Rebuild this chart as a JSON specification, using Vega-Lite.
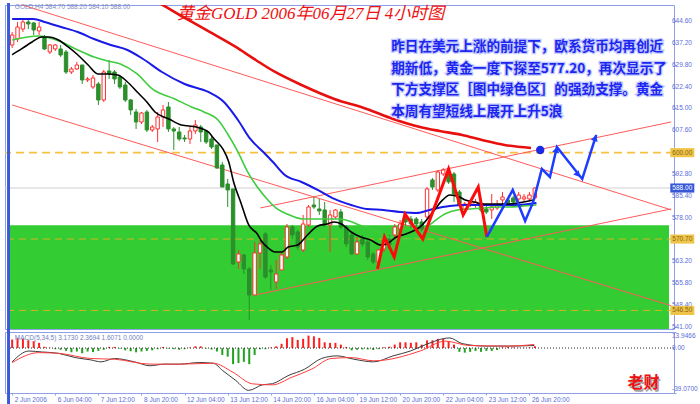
{
  "$schema": "https://vega.github.io/schema/vega-lite/v6.json",
  "background": "#ffffff",
  "padding": {"left": 3, "top": 2, "right": 0, "bottom": 0},
  "spacing": 3,
  "bounds": "flush",
  "resolve": {"scale": {"x": "independent", "y": "independent"}},
  "config": {
    "view": {"stroke": "#90a0e8", "strokeWidth": 1},
    "axis": {"grid": false, "labelFont": "Liberation Sans", "labelFontSize": 6.5, "labelColor": "#5b6cd8", "domain": false, "tickColor": "#90a0e8", "tickSize": 2, "labelPadding": 1, "labelOverlap": false}
  },
  "datasets": {
    "zone": [{"lo": 540.2, "hi": 575.4}],
    "hlines": [
      {"k": "top", "p": 600.0},
      {"k": "cur", "p": 588.0},
      {"k": "low", "p": 570.7},
      {"k": "low", "p": 546.5}
    ],
    "yticks": [
      {"p": 541.0, "t": "541.00"}, {"p": 548.4, "t": "548.40"}, {"p": 555.8, "t": "555.80"}, {"p": 563.2, "t": "563.20"},
      {"p": 578.0, "t": "578.00"}, {"p": 585.4, "t": "585.40"}, {"p": 592.8, "t": "592.80"}, {"p": 607.6, "t": "607.60"},
      {"p": 615.0, "t": "615.00"}, {"p": 622.4, "t": "622.40"}, {"p": 629.8, "t": "629.80"}, {"p": 637.2, "t": "637.20"}, {"p": 644.6, "t": "644.60"}
    ],
    "trend": [
      {"id": "L1", "i": 0, "p": 651.16}, {"id": "L1", "i": 122.3, "p": 580.59},
      {"id": "L2", "i": 0, "p": 616.15}, {"id": "L2", "i": 122.3, "p": 548.1},
      {"id": "L3", "i": 46.07, "p": 581.24}, {"id": "L3", "i": 122.3, "p": 610.39},
      {"id": "L4", "i": 45.15, "p": 551.74}, {"id": "L4", "i": 122.3, "p": 580.9}
    ],
    "ohlc": [
      {"i":0,"o":636.49,"h":640.9,"l":635.48,"c":639.88},
      {"i":1,"o":638.53,"h":644.29,"l":637.51,"c":642.59},
      {"i":2,"o":641.92,"h":645.31,"l":640.9,"c":644.29},
      {"i":3,"o":644.29,"h":644.97,"l":641.92,"c":643.61},
      {"i":4,"o":643.95,"h":644.29,"l":639.88,"c":641.58},
      {"i":5,"o":641.24,"h":644.29,"l":639.88,"c":642.59},
      {"i":6,"o":639.2,"h":639.88,"l":634.8,"c":635.14},
      {"i":7,"o":634.12,"h":636.83,"l":633.44,"c":636.49},
      {"i":8,"o":635.14,"h":636.83,"l":634.46,"c":636.49},
      {"i":9,"o":635.14,"h":636.49,"l":632.42,"c":633.1},
      {"i":10,"o":634.12,"h":634.8,"l":626.66,"c":627.34},
      {"i":11,"o":627.34,"h":629.03,"l":626.66,"c":628.36},
      {"i":12,"o":628.36,"h":630.73,"l":628.02,"c":629.71},
      {"i":13,"o":629.71,"h":629.71,"l":623.27,"c":624.63},
      {"i":14,"o":624.63,"h":625.64,"l":623.95,"c":624.97},
      {"i":15,"o":622.25,"h":626.32,"l":621.58,"c":625.31},
      {"i":16,"o":623.27,"h":623.95,"l":616.15,"c":617.85},
      {"i":17,"o":617.85,"h":628.02,"l":617.17,"c":627.34},
      {"i":18,"o":627.68,"h":631.41,"l":624.97,"c":626.66},
      {"i":19,"o":627.34,"h":628.02,"l":623.27,"c":624.97},
      {"i":20,"o":625.64,"h":626.32,"l":621.58,"c":622.25},
      {"i":21,"o":622.93,"h":623.95,"l":617.17,"c":617.85},
      {"i":22,"o":617.85,"h":618.19,"l":612.76,"c":614.46},
      {"i":23,"o":613.78,"h":614.8,"l":608.02,"c":610.39},
      {"i":24,"o":610.39,"h":613.78,"l":609.71,"c":613.44},
      {"i":25,"o":613.78,"h":614.46,"l":607.0,"c":607.68},
      {"i":26,"o":607.68,"h":609.37,"l":607.0,"c":608.69},
      {"i":27,"o":608.02,"h":613.78,"l":603.61,"c":612.08},
      {"i":28,"o":612.08,"h":616.15,"l":608.69,"c":614.46},
      {"i":29,"o":615.47,"h":617.17,"l":607.0,"c":608.02},
      {"i":30,"o":608.02,"h":608.69,"l":600.9,"c":607.34},
      {"i":31,"o":607.0,"h":608.69,"l":603.95,"c":604.63},
      {"i":32,"o":604.97,"h":605.98,"l":603.61,"c":604.63},
      {"i":33,"o":604.63,"h":608.69,"l":602.93,"c":607.34},
      {"i":34,"o":607.34,"h":611.07,"l":606.32,"c":609.37},
      {"i":35,"o":608.69,"h":609.37,"l":603.61,"c":607.0},
      {"i":36,"o":607.34,"h":607.68,"l":602.93,"c":603.61},
      {"i":37,"o":604.63,"h":605.3,"l":601.24,"c":601.91},
      {"i":38,"o":602.59,"h":602.59,"l":594.46,"c":594.8},
      {"i":39,"o":595.81,"h":596.83,"l":588.35,"c":588.35},
      {"i":40,"o":589.37,"h":591.07,"l":581.57,"c":587.34},
      {"i":41,"o":587.68,"h":587.68,"l":561.91,"c":562.25},
      {"i":42,"o":562.93,"h":567.0,"l":560.56,"c":565.64},
      {"i":43,"o":565.3,"h":565.64,"l":558.86,"c":560.56},
      {"i":44,"o":560.56,"h":561.23,"l":543.27,"c":551.74},
      {"i":45,"o":551.74,"h":569.71,"l":551.74,"c":565.98},
      {"i":46,"o":565.98,"h":570.39,"l":560.56,"c":569.03},
      {"i":47,"o":572.42,"h":573.1,"l":557.17,"c":557.84},
      {"i":48,"o":560.22,"h":561.91,"l":553.44,"c":559.54},
      {"i":49,"o":556.15,"h":563.61,"l":553.78,"c":558.86},
      {"i":50,"o":560.22,"h":566.32,"l":560.22,"c":565.3},
      {"i":51,"o":564.62,"h":575.81,"l":563.95,"c":574.79},
      {"i":52,"o":574.79,"h":575.47,"l":570.73,"c":572.08},
      {"i":53,"o":573.1,"h":573.78,"l":567.0,"c":568.01},
      {"i":54,"o":567.0,"h":578.86,"l":566.32,"c":575.81},
      {"i":55,"o":575.47,"h":582.25,"l":574.79,"c":581.57},
      {"i":56,"o":582.25,"h":584.96,"l":580.9,"c":581.57},
      {"i":57,"o":580.9,"h":584.29,"l":578.86,"c":580.22},
      {"i":58,"o":580.56,"h":583.27,"l":574.79,"c":575.47},
      {"i":59,"o":575.47,"h":580.56,"l":566.32,"c":578.86},
      {"i":60,"o":578.18,"h":580.9,"l":577.51,"c":580.56},
      {"i":61,"o":579.88,"h":580.9,"l":574.12,"c":574.79},
      {"i":62,"o":574.79,"h":575.47,"l":568.01,"c":569.03},
      {"i":63,"o":572.08,"h":573.1,"l":565.3,"c":565.64},
      {"i":64,"o":565.64,"h":571.4,"l":565.3,"c":569.71},
      {"i":65,"o":570.73,"h":572.08,"l":568.01,"c":569.03},
      {"i":66,"o":569.71,"h":570.39,"l":563.61,"c":564.62},
      {"i":67,"o":565.64,"h":566.32,"l":562.25,"c":562.93},
      {"i":68,"o":562.93,"h":567.34,"l":560.56,"c":567.0},
      {"i":69,"o":567.34,"h":571.4,"l":566.32,"c":570.39},
      {"i":70,"o":570.73,"h":572.08,"l":567.68,"c":568.69},
      {"i":71,"o":572.08,"h":575.81,"l":571.07,"c":574.79},
      {"i":72,"o":574.12,"h":577.17,"l":573.1,"c":575.81},
      {"i":73,"o":578.18,"h":579.2,"l":575.13,"c":576.49},
      {"i":74,"o":577.51,"h":578.52,"l":574.46,"c":575.81},
      {"i":75,"o":577.51,"h":578.18,"l":574.46,"c":575.81},
      {"i":76,"o":576.49,"h":577.51,"l":573.44,"c":574.12},
      {"i":77,"o":578.18,"h":588.35,"l":577.51,"c":587.68},
      {"i":78,"o":590.73,"h":591.41,"l":587.34,"c":588.35},
      {"i":79,"o":587.34,"h":594.12,"l":586.66,"c":593.44},
      {"i":80,"o":592.76,"h":594.8,"l":592.08,"c":594.12},
      {"i":81,"o":593.44,"h":594.12,"l":589.37,"c":590.05},
      {"i":82,"o":592.76,"h":593.44,"l":583.27,"c":585.98},
      {"i":83,"o":586.66,"h":587.34,"l":581.57,"c":582.25},
      {"i":84,"o":580.9,"h":583.27,"l":580.22,"c":582.59},
      {"i":85,"o":582.25,"h":583.95,"l":581.57,"c":583.27},
      {"i":86,"o":582.25,"h":584.29,"l":581.24,"c":583.27},
      {"i":87,"o":582.25,"h":583.27,"l":579.88,"c":580.56},
      {"i":88,"o":580.9,"h":581.91,"l":579.2,"c":579.88},
      {"i":89,"o":580.56,"h":585.98,"l":577.51,"c":581.57},
      {"i":90,"o":581.24,"h":583.95,"l":580.56,"c":582.25},
      {"i":91,"o":583.95,"h":586.66,"l":582.59,"c":584.96},
      {"i":92,"o":583.95,"h":584.63,"l":581.91,"c":582.59},
      {"i":93,"o":584.63,"h":585.3,"l":582.59,"c":583.27},
      {"i":94,"o":584.29,"h":586.66,"l":583.27,"c":585.64},
      {"i":95,"o":584.29,"h":585.98,"l":583.61,"c":584.96},
      {"i":96,"o":584.29,"h":586.66,"l":583.61,"c":585.64},
      {"i":97,"o":584.7,"h":588.2,"l":584.1,"c":588.0}
    ],
    "ma": [
      {"m":"red","i":24.0,"p":653.5},{"m":"red","i":26.9,"p":651.07},{"m":"red","i":31.1,"p":646.66},{"m":"red","i":36.0,"p":641.58},{"m":"red","i":41.5,"p":635.82},{"m":"red","i":45.2,"p":631.41},{"m":"red","i":48.8,"p":627.34},{"m":"red","i":53.7,"p":622.93},{"m":"red","i":59.8,"p":618.19},{"m":"red","i":65.8,"p":614.8},{"m":"red","i":70.7,"p":611.41},{"m":"red","i":75.7,"p":608.69},{"m":"red","i":79.3,"p":607.34},{"m":"red","i":83.5,"p":605.98},{"m":"red","i":87.2,"p":604.29},{"m":"red","i":91.4,"p":602.59},{"m":"red","i":96.3,"p":601.58},
      {"m":"blue","i":0,"p":645.31},{"m":"blue","i":4.0,"p":645.31},{"m":"blue","i":6.0,"p":644.29},{"m":"blue","i":9.1,"p":642.59},{"m":"blue","i":12.2,"p":640.9},{"m":"blue","i":15.2,"p":638.53},{"m":"blue","i":18.3,"p":636.49},{"m":"blue","i":21.4,"p":634.8},{"m":"blue","i":24.3,"p":631.75},{"m":"blue","i":27.8,"p":627.34},{"m":"blue","i":32.0,"p":623.27},{"m":"blue","i":36.4,"p":620.56},{"m":"blue","i":39.3,"p":617.17},{"m":"blue","i":41.9,"p":611.07},{"m":"blue","i":44.2,"p":604.63},{"m":"blue","i":46.6,"p":600.22},{"m":"blue","i":48.4,"p":596.83},{"m":"blue","i":50.6,"p":592.42},{"m":"blue","i":53.7,"p":590.05},{"m":"blue","i":56.7,"p":587.34},{"m":"blue","i":59.8,"p":584.29},{"m":"blue","i":62.9,"p":582.25},{"m":"blue","i":65.8,"p":580.9},{"m":"blue","i":68.9,"p":580.56},{"m":"blue","i":72.0,"p":579.88},{"m":"blue","i":75.0,"p":579.54},{"m":"blue","i":78.1,"p":580.9},{"m":"blue","i":81.2,"p":581.91},{"m":"blue","i":84.1,"p":582.25},{"m":"blue","i":88.7,"p":582.25},{"m":"blue","i":93.6,"p":582.25},{"m":"blue","i":97.3,"p":582.93},
      {"m":"green","i":0,"p":638.19},{"m":"green","i":4.9,"p":639.54},{"m":"green","i":9.1,"p":637.51},{"m":"green","i":12.2,"p":634.8},{"m":"green","i":15.2,"p":632.42},{"m":"green","i":17.7,"p":631.07},{"m":"green","i":20.1,"p":630.05},{"m":"green","i":23.2,"p":626.66},{"m":"green","i":26.0,"p":621.58},{"m":"green","i":30.2,"p":618.19},{"m":"green","i":33.3,"p":615.47},{"m":"green","i":35.6,"p":613.78},{"m":"green","i":38.2,"p":611.07},{"m":"green","i":40.0,"p":606.32},{"m":"green","i":41.9,"p":600.22},{"m":"green","i":43.7,"p":593.44},{"m":"green","i":45.5,"p":588.35},{"m":"green","i":47.3,"p":584.29},{"m":"green","i":49.2,"p":580.9},{"m":"green","i":51.0,"p":579.2},{"m":"green","i":53.9,"p":577.51},{"m":"green","i":57.0,"p":577.51},{"m":"green","i":60.7,"p":577.51},{"m":"green","i":63.1,"p":576.49},{"m":"green","i":64.4,"p":575.47},{"m":"green","i":67.1,"p":573.78},{"m":"green","i":69.8,"p":571.4},{"m":"green","i":72.6,"p":570.39},{"m":"green","i":75.0,"p":571.4},{"m":"green","i":77.7,"p":575.81},{"m":"green","i":80.3,"p":579.2},{"m":"green","i":82.6,"p":580.56},{"m":"green","i":85.0,"p":580.9},{"m":"green","i":87.6,"p":581.24},{"m":"green","i":89.9,"p":581.57},{"m":"green","i":92.3,"p":581.57},{"m":"green","i":94.9,"p":581.91},{"m":"green","i":97.3,"p":582.25},
      {"m":"black","i":0,"p":633.2},{"m":"black","i":1.8,"p":635.24},{"m":"black","i":3.7,"p":637.51},{"m":"black","i":5.5,"p":639.2},{"m":"black","i":6.8,"p":639.2},{"m":"black","i":8.6,"p":638.19},{"m":"black","i":10.4,"p":635.82},{"m":"black","i":12.2,"p":633.1},{"m":"black","i":14.1,"p":629.71},{"m":"black","i":15.9,"p":626.66},{"m":"black","i":17.7,"p":626.66},{"m":"black","i":19.6,"p":626.32},{"m":"black","i":21.4,"p":623.95},{"m":"black","i":23.2,"p":620.56},{"m":"black","i":25.0,"p":617.17},{"m":"black","i":26.5,"p":613.78},{"m":"black","i":29.1,"p":611.41},{"m":"black","i":31.4,"p":609.37},{"m":"black","i":34.2,"p":608.69},{"m":"black","i":36.4,"p":607.0},{"m":"black","i":37.5,"p":604.63},{"m":"black","i":39.1,"p":601.24},{"m":"black","i":40.2,"p":596.83},{"m":"black","i":41.1,"p":590.05},{"m":"black","i":42.4,"p":583.27},{"m":"black","i":43.9,"p":575.47},{"m":"black","i":45.5,"p":572.42},{"m":"black","i":46.4,"p":569.71},{"m":"black","i":47.3,"p":568.01},{"m":"black","i":48.8,"p":566.32},{"m":"black","i":50.1,"p":566.32},{"m":"black","i":51.2,"p":568.01},{"m":"black","i":53.0,"p":568.69},{"m":"black","i":54.8,"p":572.08},{"m":"black","i":56.7,"p":575.13},{"m":"black","i":58.5,"p":575.81},{"m":"black","i":59.8,"p":576.49},{"m":"black","i":61.1,"p":575.81},{"m":"black","i":62.9,"p":573.1},{"m":"black","i":64.7,"p":571.4},{"m":"black","i":66.5,"p":570.39},{"m":"black","i":68.4,"p":568.69},{"m":"black","i":69.5,"p":569.03},{"m":"black","i":71.3,"p":571.4},{"m":"black","i":73.1,"p":572.42},{"m":"black","i":75.7,"p":574.79},{"m":"black","i":78.1,"p":579.88},{"m":"black","i":79.9,"p":583.95},{"m":"black","i":81.2,"p":585.64},{"m":"black","i":83.0,"p":584.96},{"m":"black","i":84.1,"p":583.95},{"m":"black","i":85.7,"p":583.27},{"m":"black","i":87.6,"p":582.59},{"m":"black","i":89.9,"p":582.59},{"m":"black","i":92.3,"p":582.59},{"m":"black","i":94.9,"p":583.27},{"m":"black","i":96.7,"p":583.95}
    ],
    "zigR": [
      {"i":67.8,"p":560.56},{"i":69.1,"p":571.4},{"i":70.9,"p":564.62},{"i":72.9,"p":579.2},{"i":76.2,"p":570.73},{"i":81.0,"p":594.46},{"i":83.7,"p":578.86},{"i":86.5,"p":588.35},{"i":88.1,"p":571.4}
    ],
    "zigB": [
      {"i":88.1,"p":571.4},{"i":92.9,"p":587.34},{"i":95.2,"p":576.83},{"i":96.7,"p":583.27},{"i":98.3,"p":594.46},{"i":99.8,"p":591.75},{"i":101.1,"p":601.91},{"i":105.8,"p":591.07},{"i":108.4,"p":605.98}
    ],
    "arrows": [
      {"id":"a1","i":101.0,"p":601.0},
      {"id":"a2","i":105.0,"p":592.5},
      {"id":"a3","i":108.2,"p":605.0}
    ],
    "dot": [{"i":98.0,"p":600.9}],
    "boxes": [
      {"k":"y","p":600.0,"t":"600.00"},
      {"k":"b","p":588.0,"t":"588.00"},
      {"k":"y","p":570.7,"t":"570.70"},
      {"k":"y","p":546.5,"t":"546.50"}
    ],
    "hist": [
      {"i":0,"v":7.4},{"i":1,"v":8.8},{"i":2,"v":8},{"i":3,"v":6.8},{"i":4,"v":6},{"i":5,"v":4.5},{"i":6,"v":1.1},{"i":7,"v":0.3},{"i":8,"v":-1},{"i":9,"v":-1.5},
      {"i":10,"v":-2.5},{"i":11,"v":-3.7},{"i":12,"v":-3},{"i":13,"v":-4.5},{"i":14,"v":-3},{"i":15,"v":-3.5},{"i":16,"v":-2.5},{"i":17,"v":-1.5},{"i":18,"v":1},{"i":19,"v":1},
      {"i":20,"v":-0.5},{"i":21,"v":-2},{"i":22,"v":-2.8},{"i":23,"v":-3.7},{"i":24,"v":-3},{"i":25,"v":-2.5},{"i":26,"v":-2},{"i":27,"v":-1},{"i":28,"v":1},{"i":29,"v":-0.5},
      {"i":30,"v":-1},{"i":31,"v":-1.5},{"i":32,"v":-1},{"i":33,"v":0.5},{"i":34,"v":1.5},{"i":35,"v":1.5},{"i":36,"v":-0.5},{"i":37,"v":-1.3},{"i":38,"v":-3},{"i":39,"v":-6},
      {"i":40,"v":-7.5},{"i":41,"v":-14},{"i":42,"v":-13},{"i":43,"v":-12},{"i":44,"v":-14},{"i":45,"v":-6},{"i":46,"v":-1},{"i":47,"v":-1},{"i":48,"v":0.5},{"i":49,"v":1.5},
      {"i":50,"v":3.7},{"i":51,"v":8.5},{"i":52,"v":9.5},{"i":53,"v":7},{"i":54,"v":8},{"i":55,"v":10.8},{"i":56,"v":10.2},{"i":57,"v":8.8},{"i":58,"v":5},{"i":59,"v":4.5},
      {"i":60,"v":4.5},{"i":61,"v":3},{"i":62,"v":1},{"i":63,"v":-2},{"i":64,"v":-1.5},{"i":65,"v":-1.2},{"i":66,"v":-1.2},{"i":67,"v":-1.7},{"i":68,"v":-1},{"i":69,"v":0.6},
      {"i":70,"v":1.2},{"i":71,"v":3},{"i":72,"v":5},{"i":73,"v":5},{"i":74,"v":4.5},{"i":75,"v":5},{"i":76,"v":3},{"i":77,"v":6.7},{"i":78,"v":6.7},{"i":79,"v":8},
      {"i":80,"v":8},{"i":81,"v":6},{"i":82,"v":3},{"i":83,"v":-3.3},{"i":84,"v":-4},{"i":85,"v":-3.3},{"i":86,"v":-2.5},{"i":87,"v":-3.3},{"i":88,"v":-2.5},{"i":89,"v":-2.5},
      {"i":90,"v":-1.7},{"i":91,"v":0.5},{"i":92,"v":0.8},{"i":93,"v":0.5},{"i":94,"v":0.3},{"i":95,"v":0.3},{"i":96,"v":0.5},{"i":97,"v":1.6}
    ],
    "macd": [
      {"m":"macd","i":0,"v":-12},{"m":"macd","i":3.1,"v":-2.6},{"m":"macd","i":5.5,"v":-3.4},{"m":"macd","i":8.6,"v":-4.6},{"m":"macd","i":11.7,"v":-8.3},{"m":"macd","i":14.6,"v":-10.3},{"m":"macd","i":16.5,"v":-12},{"m":"macd","i":19.0,"v":-9.1},{"m":"macd","i":22.7,"v":-12},{"m":"macd","i":25.6,"v":-15.4},{"m":"macd","i":28.2,"v":-14},{"m":"macd","i":31.1,"v":-14},{"m":"macd","i":34.7,"v":-12.6},{"m":"macd","i":37.3,"v":-13.2},{"m":"macd","i":39.1,"v":-19.7},{"m":"macd","i":41.5,"v":-28.2},{"m":"macd","i":43.9,"v":-36.8},{"m":"macd","i":46.4,"v":-32},{"m":"macd","i":48.3,"v":-31},{"m":"macd","i":51.2,"v":-24},{"m":"macd","i":54.3,"v":-18.3},{"m":"macd","i":57.4,"v":-9.1},{"m":"macd","i":60.3,"v":-6.8},{"m":"macd","i":63.4,"v":-9.7},{"m":"macd","i":67.1,"v":-12},{"m":"macd","i":70.7,"v":-6.8},{"m":"macd","i":73.9,"v":-2.6},{"m":"macd","i":76.8,"v":3.1},{"m":"macd","i":81.2,"v":8.8},{"m":"macd","i":83.5,"v":3.9},{"m":"macd","i":87.8,"v":1.7},{"m":"macd","i":92.1,"v":1.7},{"m":"macd","i":96.9,"v":2.2},
      {"m":"sig","i":0,"v":-12.6},{"m":"sig","i":4.9,"v":-4},{"m":"sig","i":8.6,"v":-4.6},{"m":"sig","i":14.6,"v":-9.1},{"m":"sig","i":19.0,"v":-9.7},{"m":"sig","i":25.6,"v":-14},{"m":"sig","i":31.1,"v":-14},{"m":"sig","i":37.3,"v":-13.2},{"m":"sig","i":41.0,"v":-21.1},{"m":"sig","i":44.6,"v":-31.1},{"m":"sig","i":48.3,"v":-32},{"m":"sig","i":51.9,"v":-25.4},{"m":"sig","i":55.6,"v":-18.3},{"m":"sig","i":59.2,"v":-9.1},{"m":"sig","i":62.9,"v":-8.3},{"m":"sig","i":67.1,"v":-11.1},{"m":"sig","i":75.7,"v":-2.6},{"m":"sig","i":80.4,"v":6},{"m":"sig","i":84.8,"v":2.2},{"m":"sig","i":92.1,"v":1.7},{"m":"sig","i":96.9,"v":3.1}
    ]
  },
  "vconcat": [
    {
      "width": 669,
      "height": 324,
      "layer": [
        {
          "data": {"name": "zone"},
          "mark": {"type": "rect", "color": "#33cc33", "clip": true},
          "encoding": {
            "x": {"datum": -0.4, "type": "quantitative", "scale": {"domain": [-0.4, 121.9], "nice": false, "zero": false}, "axis": null},
            "x2": {"datum": 121.9},
            "y": {"field": "hi", "type": "quantitative", "scale": {"domain": [540.2, 650.05], "nice": false, "zero": false},
                  "axis": {"orient": "right", "title": null, "labels": false, "values": [541, 548.4, 555.8, 563.2, 578, 585.4, 592.8, 607.6, 615, 622.4, 629.8, 637.2, 644.6]}},
            "y2": {"field": "lo"}
          }
        },
        {
          "data": {"name": "hlines"},
          "transform": [{"filter": "datum.k == 'top'"}],
          "mark": {"type": "rule", "color": "#f6c141", "strokeWidth": 1.6, "strokeDash": [8, 5]},
          "encoding": {"y": {"field": "p", "type": "quantitative"}}
        },
        {
          "data": {"name": "hlines"},
          "transform": [{"filter": "datum.k == 'cur'"}],
          "mark": {"type": "rule", "color": "#cfcfcf", "strokeWidth": 1.2},
          "encoding": {"y": {"field": "p", "type": "quantitative"}}
        },
        {
          "data": {"name": "hlines"},
          "transform": [{"filter": "datum.k == 'low'"}],
          "mark": {"type": "rule", "color": "#d8b21f", "strokeWidth": 1, "strokeDash": [7, 5]},
          "encoding": {"y": {"field": "p", "type": "quantitative"}}
        },
        {
          "data": {"name": "trend"},
          "mark": {"type": "line", "color": "#ff5a5a", "strokeWidth": 1, "clip": true},
          "encoding": {
            "x": {"field": "i", "type": "quantitative", "axis": null},
            "y": {"field": "p", "type": "quantitative"},
            "detail": {"field": "id"}
          }
        },
        {
          "data": {"name": "ohlc"},
          "mark": {"type": "rule", "strokeWidth": 1, "clip": true},
          "encoding": {
            "x": {"field": "i", "type": "quantitative", "axis": null},
            "y": {"field": "l", "type": "quantitative"},
            "y2": {"field": "h"},
            "color": {"condition": {"test": "datum.c >= datum.o", "value": "#ff3030"}, "value": "#2b8f2b"}
          }
        },
        {
          "data": {"name": "ohlc"},
          "mark": {"type": "bar", "size": 3.4, "strokeWidth": 1, "clip": true},
          "encoding": {
            "x": {"field": "i", "type": "quantitative", "axis": null},
            "y": {"field": "o", "type": "quantitative"},
            "y2": {"field": "c"},
            "fill": {"condition": {"test": "datum.c >= datum.o", "value": "#ffffff"}, "value": "#2b8f2b"},
            "stroke": {"condition": {"test": "datum.c >= datum.o", "value": "#ff3030"}, "value": "#2b8f2b"}
          }
        },
        {
          "data": {"name": "ma"},
          "transform": [{"filter": "datum.m == 'red'"}],
          "mark": {"type": "line", "color": "#e8100e", "strokeWidth": 2.6, "interpolate": "monotone", "clip": true},
          "encoding": {"x": {"field": "i", "type": "quantitative", "axis": null}, "y": {"field": "p", "type": "quantitative"}}
        },
        {
          "data": {"name": "ma"},
          "transform": [{"filter": "datum.m == 'blue'"}],
          "mark": {"type": "line", "color": "#1a1ae8", "strokeWidth": 2, "interpolate": "monotone", "clip": true},
          "encoding": {"x": {"field": "i", "type": "quantitative", "axis": null}, "y": {"field": "p", "type": "quantitative"}}
        },
        {
          "data": {"name": "ma"},
          "transform": [{"filter": "datum.m == 'green'"}],
          "mark": {"type": "line", "color": "#3fcc3f", "strokeWidth": 1.6, "interpolate": "monotone", "clip": true},
          "encoding": {"x": {"field": "i", "type": "quantitative", "axis": null}, "y": {"field": "p", "type": "quantitative"}}
        },
        {
          "data": {"name": "ma"},
          "transform": [{"filter": "datum.m == 'black'"}],
          "mark": {"type": "line", "color": "#000000", "strokeWidth": 1.6, "interpolate": "monotone", "clip": true},
          "encoding": {"x": {"field": "i", "type": "quantitative", "axis": null}, "y": {"field": "p", "type": "quantitative"}}
        },
        {
          "data": {"name": "zigR"},
          "mark": {"type": "line", "color": "#ff0a0a", "strokeWidth": 3},
          "encoding": {"x": {"field": "i", "type": "quantitative", "axis": null}, "y": {"field": "p", "type": "quantitative"}}
        },
        {
          "data": {"name": "zigB"},
          "mark": {"type": "line", "color": "#1e3cff", "strokeWidth": 2.5},
          "encoding": {"x": {"field": "i", "type": "quantitative", "axis": null}, "y": {"field": "p", "type": "quantitative"}}
        },
        {
          "data": {"name": "arrows"},
          "transform": [{"filter": "datum.id == 'a1'"}],
          "mark": {"type": "point", "shape": "triangle-up", "filled": true, "color": "#1e3cff", "size": 50, "angle": 13, "opacity": 1},
          "encoding": {"x": {"field": "i", "type": "quantitative", "axis": null}, "y": {"field": "p", "type": "quantitative"}}
        },
        {
          "data": {"name": "arrows"},
          "transform": [{"filter": "datum.id == 'a2'"}],
          "mark": {"type": "point", "shape": "triangle-up", "filled": true, "color": "#1e3cff", "size": 50, "angle": 141, "opacity": 1},
          "encoding": {"x": {"field": "i", "type": "quantitative", "axis": null}, "y": {"field": "p", "type": "quantitative"}}
        },
        {
          "data": {"name": "arrows"},
          "transform": [{"filter": "datum.id == 'a3'"}],
          "mark": {"type": "point", "shape": "triangle-up", "filled": true, "color": "#1e3cff", "size": 50, "angle": 18, "opacity": 1},
          "encoding": {"x": {"field": "i", "type": "quantitative", "axis": null}, "y": {"field": "p", "type": "quantitative"}}
        },
        {
          "data": {"name": "dot"},
          "mark": {"type": "point", "shape": "circle", "filled": true, "color": "#1a2ae6", "size": 70, "opacity": 1},
          "encoding": {"x": {"field": "i", "type": "quantitative", "axis": null}, "y": {"field": "p", "type": "quantitative"}}
        },
        {
          "data": {"values": [{}]},
          "mark": {"type": "text", "text": "黄金GOLD 2006年06月27日  4小时图", "font": "Liberation Serif, 'Noto Sans CJK SC'", "fontSize": 17, "fontStyle": "italic", "color": "#ee1111", "align": "left", "baseline": "middle"},
          "encoding": {"x": {"datum": 30.6, "type": "quantitative", "axis": null}, "y": {"datum": 647.0, "type": "quantitative"}}
        },
        {
          "data": {"values": [{}]},
          "mark": {"type": "text", "text": ["昨日在美元上涨的前提下，欧系货币均再创近", "期新低，黄金一度下探至577.20，再次显示了", "下方支撑区［图中绿色区］的强劲支撑。黄金", "本周有望短线上展开上升5浪"], "font": "Noto Sans CJK SC", "fontSize": 13.6, "fontWeight": "bold", "lineHeight": 21.7, "color": "#c4ccff", "stroke": "#c4ccff", "strokeWidth": 2.5, "align": "left", "baseline": "middle"},
          "encoding": {"x": {"datum": 70.35, "type": "quantitative", "axis": null}, "y": {"datum": 635.8, "type": "quantitative"}}
        },
        {
          "data": {"values": [{}]},
          "mark": {"type": "text", "text": ["昨日在美元上涨的前提下，欧系货币均再创近", "期新低，黄金一度下探至577.20，再次显示了", "下方支撑区［图中绿色区］的强劲支撑。黄金", "本周有望短线上展开上升5浪"], "font": "Noto Sans CJK SC", "fontSize": 13.6, "fontWeight": "bold", "lineHeight": 21.7, "color": "#1d26f0", "align": "left", "baseline": "middle"},
          "encoding": {"x": {"datum": 70.35, "type": "quantitative", "axis": null}, "y": {"datum": 635.8, "type": "quantitative"}}
        },
        {
          "data": {"values": [{}]},
          "mark": {"type": "text", "text": "GOLD,H4  584.70 588.20 584.10 588.00", "font": "Liberation Sans", "fontSize": 6.5, "color": "#7f8cc0", "align": "left", "baseline": "middle"},
          "encoding": {"x": {"datum": 0.5, "type": "quantitative", "axis": null}, "y": {"datum": 649.4, "type": "quantitative"}}
        },
        {
          "data": {"name": "yticks"},
          "mark": {"type": "text", "font": "Liberation Sans", "fontSize": 6.5, "color": "#5b6cd8", "align": "left", "baseline": "middle", "dx": 3},
          "encoding": {
            "x": {"datum": 121.9, "type": "quantitative", "axis": null},
            "y": {"field": "p", "type": "quantitative"},
            "text": {"field": "t"}
          }
        },
        {
          "data": {"name": "boxes"},
          "mark": {"type": "point", "shape": "M-1,-0.38H1V0.38H-1Z", "size": 576, "filled": true, "opacity": 1, "strokeWidth": 0},
          "encoding": {
            "x": {"datum": 124.37, "type": "quantitative", "axis": null},
            "y": {"field": "p", "type": "quantitative"},
            "color": {"condition": {"test": "datum.k == 'b'", "value": "#3557d8"}, "value": "#eec54a"}
          }
        },
        {
          "data": {"name": "boxes"},
          "mark": {"type": "text", "font": "Liberation Sans", "fontSize": 6.5, "align": "center", "baseline": "middle"},
          "encoding": {
            "x": {"datum": 124.37, "type": "quantitative", "axis": null},
            "y": {"field": "p", "type": "quantitative"},
            "text": {"field": "t"},
            "color": {"condition": {"test": "datum.k == 'b'", "value": "#ffffff"}, "value": "#8a6410"}
          }
        },
        {
          "data": {"values": [{}]},
          "mark": {"type": "rect", "color": "#3a5bd9"},
          "encoding": {
            "x": {"datum": -0.948, "type": "quantitative", "axis": null},
            "x2": {"datum": -0.4},
            "y": {"datum": 650.7, "type": "quantitative"},
            "y2": {"datum": 539.2}
          }
        }
      ]
    },
    {
      "width": 669,
      "height": 61,
      "layer": [
        {
          "data": {"name": "hist"},
          "mark": {"type": "bar", "size": 2},
          "encoding": {
            "x": {"field": "i", "type": "quantitative", "scale": {"domain": [-0.4, 121.9], "nice": false, "zero": false},
                  "axis": {"title": null, "labelOverlap": false, "values": [0, 8, 16, 24, 32, 40, 48, 56, 64, 72, 80, 88, 96], "labelExpr": "['2 Jun 2006','6 Jun 04:00','7 Jun 12:00','8 Jun 20:00','12 Jun 04:00','13 Jun 12:00','14 Jun 20:00','16 Jun 04:00','19 Jun 12:00','20 Jun 20:00','22 Jun 04:00','23 Jun 12:00','26 Jun 20:00'][round(datum.value/8)]", "labelAlign": "left", "labelOffset": 2, "labelFlush": false, "tickSize": 2, "labelPadding": 1}},
            "y": {"field": "v", "type": "quantitative", "scale": {"domain": [-39.07, 13.9466], "nice": false, "zero": false},
                  "axis": {"orient": "right", "title": null, "labels": false, "values": [13.9466, 0, -39.07]}},
            "y2": {"datum": 0},
            "color": {"condition": {"test": "datum.v >= 0", "value": "#ff1e1e"}, "value": "#22a022"}
          }
        },
        {
          "data": {"values": [{}]},
          "mark": {"type": "rule", "color": "#222222", "strokeWidth": 1, "strokeDash": [1, 2]},
          "encoding": {"y": {"datum": 0, "type": "quantitative"}}
        },
        {
          "data": {"name": "macd"},
          "transform": [{"filter": "datum.m == 'macd'"}],
          "mark": {"type": "line", "color": "#3c3c3c", "strokeWidth": 1, "interpolate": "monotone"},
          "encoding": {"x": {"field": "i", "type": "quantitative"}, "y": {"field": "v", "type": "quantitative"}}
        },
        {
          "data": {"name": "macd"},
          "transform": [{"filter": "datum.m == 'sig'"}],
          "mark": {"type": "line", "color": "#ff3b3b", "strokeWidth": 1, "interpolate": "monotone"},
          "encoding": {"x": {"field": "i", "type": "quantitative"}, "y": {"field": "v", "type": "quantitative"}}
        },
        {
          "data": {"values": [{}]},
          "mark": {"type": "text", "text": "13.9466", "font": "Liberation Sans", "fontSize": 6.5, "color": "#5b6cd8", "align": "left", "baseline": "top", "dx": 3, "dy": 1},
          "encoding": {"x": {"datum": 121.9, "type": "quantitative"}, "y": {"datum": 13.9466, "type": "quantitative"}}
        },
        {
          "data": {"values": [{}]},
          "mark": {"type": "text", "text": "0.00", "font": "Liberation Sans", "fontSize": 6.5, "color": "#5b6cd8", "align": "left", "baseline": "middle", "dx": 3},
          "encoding": {"x": {"datum": 121.9, "type": "quantitative"}, "y": {"datum": 0, "type": "quantitative"}}
        },
        {
          "data": {"values": [{}]},
          "mark": {"type": "text", "text": "-39.0700", "font": "Liberation Sans", "fontSize": 6.5, "color": "#5b6cd8", "align": "left", "baseline": "bottom", "dx": 3, "dy": -1},
          "encoding": {"x": {"datum": 121.9, "type": "quantitative"}, "y": {"datum": -39.07, "type": "quantitative"}}
        },
        {
          "data": {"values": [{}]},
          "mark": {"type": "text", "text": "MACD(5,34,5) 3.1730 2.3694 1.6071 0.0000", "font": "Liberation Sans", "fontSize": 6.5, "color": "#6f7fc0", "align": "left", "baseline": "middle"},
          "encoding": {"x": {"datum": 0.5, "type": "quantitative"}, "y": {"datum": 8.6, "type": "quantitative"}}
        },
        {
          "data": {"values": [{}]},
          "mark": {"type": "text", "text": "老财", "font": "Noto Sans CJK SC", "fontSize": 16, "fontWeight": "bold", "color": "#808080", "opacity": 0.7, "align": "left", "baseline": "middle", "dx": 1.5, "dy": 1.5},
          "encoding": {"x": {"datum": 114.2, "type": "quantitative"}, "y": {"datum": -30.5, "type": "quantitative"}}
        },
        {
          "data": {"values": [{}]},
          "mark": {"type": "text", "text": "老财", "font": "Noto Sans CJK SC", "fontSize": 16, "fontWeight": "bold", "color": "#ee1111", "align": "left", "baseline": "middle"},
          "encoding": {"x": {"datum": 114.2, "type": "quantitative"}, "y": {"datum": -30.5, "type": "quantitative"}}
        },
        {
          "data": {"values": [{}]},
          "mark": {"type": "rect", "color": "#3a5bd9"},
          "encoding": {
            "x": {"datum": -0.948, "type": "quantitative"},
            "x2": {"datum": -0.4},
            "y": {"datum": 16.6, "type": "quantitative"},
            "y2": {"datum": -51.2}
          }
        },
        {
          "data": {"values": [{}]},
          "mark": {"type": "rect", "color": "#3a5bd9"},
          "encoding": {
            "x": {"datum": -0.948, "type": "quantitative"},
            "x2": {"datum": 127.0},
            "y": {"datum": -48.7, "type": "quantitative"},
            "y2": {"datum": -51.2}
          }
        }
      ]
    }
  ]
}
